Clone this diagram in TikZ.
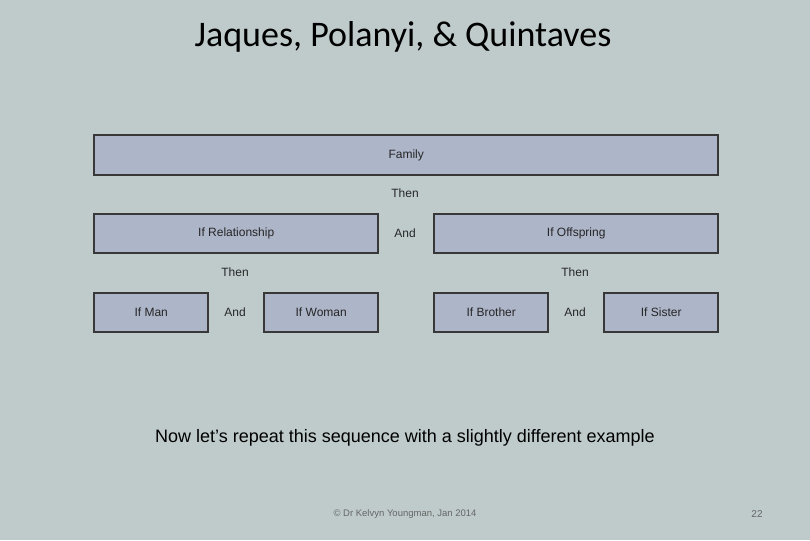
\documentclass[tikz,border=0pt]{standalone}
\usepackage{fontspec}
\setmainfont{Liberation Sans}
\newfontfamily\titlefont{Carlito}
\begin{document}
\begin{tikzpicture}[x=1pt,y=-1pt,
  box/.style={draw=boxline,fill=boxfill,line width=2.4pt,inner sep=0pt,anchor=north west},
  lbl/.style={font=\fontsize{12}{14}\selectfont,text=black!85}]
\definecolor{bg}{HTML}{BFCBCB}
\definecolor{boxfill}{HTML}{ADB5C8}
\definecolor{boxline}{HTML}{383838}
\fill[bg] (0,0) rectangle (810,540);
\useasboundingbox (0,0) rectangle (810,540);
\node[font=\titlefont\fontsize{36}{40}\selectfont] (title) at (403,37) {Jaques, Polanyi, \& Quintaves};
\node[box,minimum width=624pt,minimum height=40pt] (fam) at (93,134) {};
\node[lbl] at (fam.center) {Family};
\node[lbl] (t1) at (405,193) {Then};
\node[box,minimum width=284pt,minimum height=39pt] (rel) at (93,213) {};
\node[lbl] at (rel.center) {If Relationship};
\node[lbl] (a1) at (405,233) {And};
\node[box,minimum width=284pt,minimum height=39pt] (off) at (433,213) {};
\node[lbl] at (off.center) {If Offspring};
\node[lbl] (t2) at (235,272) {Then};
\node[lbl] (t3) at (575,272) {Then};
\node[box,minimum width=114pt,minimum height=39pt] (man) at (93,292) {};
\node[lbl] at (man.center) {If Man};
\node[lbl] (a2) at (235,312) {And};
\node[box,minimum width=114pt,minimum height=39pt] (wom) at (263,292) {};
\node[lbl] at (wom.center) {If Woman};
\node[box,minimum width=114pt,minimum height=39pt] (bro) at (433,292) {};
\node[lbl] at (bro.center) {If Brother};
\node[lbl] (a3) at (575,312) {And};
\node[box,minimum width=114pt,minimum height=39pt] (sis) at (603,292) {};
\node[lbl] at (sis.center) {If Sister};
\node[font=\fontsize{18}{21}\selectfont] (note) at (405,438) {Now let’s repeat this sequence with a slightly different example};
\node[font=\fontsize{9.5}{11}\selectfont,text=black!60] (copy) at (405,514) {© Dr Kelvyn Youngman, Jan 2014};
\node[font=\fontsize{10}{12}\selectfont,text=black!60] (pg) at (757,514) {22};
\end{tikzpicture}
\end{document}
